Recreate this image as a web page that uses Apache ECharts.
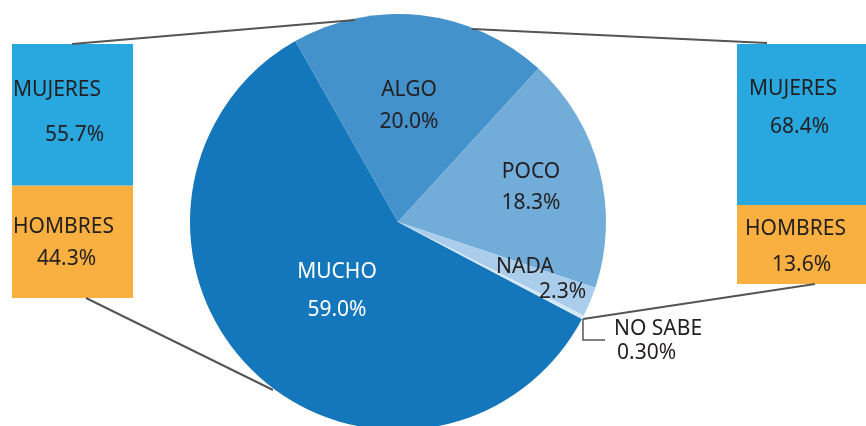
<!DOCTYPE html>
<html>
<head>
<meta charset="utf-8">
<script src="https://cdn.jsdelivr.net/npm/echarts@6/dist/echarts.min.js"></script>
<style>
  html, body { margin: 0; padding: 0; background: #fff; }
  #chart { width: 866px; height: 426px; }
</style>
</head>
<body>
<div id="chart"></div>
<script>
// pie data
var answers = ["MUCHO", "ALGO", "POCO", "NADA", "NO SABE"];
var answerPct = [59.0, 20.0, 18.3, 2.3, 0.3];
var answerDecimals = [1, 1, 1, 1, 2];

// side bars (breakdown by sex)
var sexes = ["HOMBRES", "MUJERES"];
var leftPct = [44.3, 55.7];
var rightPct = [13.6, 68.4];
// right bar segment heights as drawn (share of bar)
var rightBarShare = [32.9, 67.1];

var textColor = "#231f20";
var font = "Noto Sans";
var fontSize = 21;
var pieColors = ["#1476bb", "#4392cb", "#72acd9", "#a9cdea", "#d5e7f5"];
var sexColors = ["#f9b040", "#29a8e0"];

// label layout for pie (block centre / left edge, line height, indent of 2nd line)
var pieLabelLayout = [
  { x: 337, y: 291, align: "center", lh: 38, indent: 0, color: "#fff" },
  { x: 409, y: 106, align: "center", lh: 32, indent: 0, color: textColor },
  { x: 531, y: 187.5, align: "center", lh: 31, indent: 0, color: textColor },
  { x: 496, y: 279.5, align: "left", lh: 25, indent: 43, color: textColor },
  { x: 614, y: 341, align: "left", lh: 24, indent: 3, color: textColor }
];

// bar label layout: [dx, dy] from segment top-left, line height, indent
var leftLabelLayout = [
  { pos: [1, 26], lh: 32, indent: 24 },
  { pos: [1, 23.5], lh: 45, indent: 32 }
];
var rightLabelLayout = [
  { pos: [8, 6], lh: 36, indent: 27 },
  { pos: [12, 26], lh: 38, indent: 21 }
];

function richFor(lh, indent, color) {
  return {
    n: { fontFamily: font, fontSize: fontSize, lineHeight: lh, color: color },
    p: { fontFamily: font, fontSize: fontSize, lineHeight: lh, color: color, padding: [0, 0, 0, indent] }
  };
}

var pieData = answers.map(function (name, i) {
  var l = pieLabelLayout[i];
  return {
    name: name,
    value: answerPct[i],
    itemStyle: { color: pieColors[i] },
    label: {
      formatter: "{n|" + name + "}\n{p|" + answerPct[i].toFixed(answerDecimals[i]) + "%}",
      align: l.align,
      rich: richFor(l.lh, l.indent, l.color)
    }
  };
});

function barSeries(gridIdx, heights, pcts, layout) {
  return sexes.map(function (s, i) {
    return {
      type: "bar",
      name: s,
      stack: "g" + gridIdx,
      xAxisIndex: gridIdx,
      yAxisIndex: gridIdx,
      barWidth: "100%",
      silent: true,
      itemStyle: { color: sexColors[i] },
      label: {
        show: true,
        position: layout[i].pos,
        formatter: "{n|" + s + "}\n{p|" + pcts[i].toFixed(1) + "%}",
        rich: richFor(layout[i].lh, layout[i].indent, textColor)
      },
      data: [heights[i]]
    };
  });
}

var chart = echarts.init(document.getElementById("chart"));
var option = {
  backgroundColor: "#fff",
  animation: false,
  grid: [
    { left: 12, top: 44, width: 121, height: 254 },
    { left: 737, top: 44, width: 129, height: 240 }
  ],
  xAxis: [
    { type: "category", data: ["x"], gridIndex: 0, show: false },
    { type: "category", data: ["x"], gridIndex: 1, show: false }
  ],
  yAxis: [
    { type: "value", gridIndex: 0, min: 0, max: 100, show: false },
    { type: "value", gridIndex: 1, min: 0, max: 100, show: false }
  ],
  series: [
    {
      type: "pie",
      center: [398, 222],
      radius: 208,
      startAngle: 332.2,
      clockwise: true,
      silent: true,
      label: { show: true, position: "inside" },
      labelLine: { show: false },
      labelLayout: function (p) {
        var l = pieLabelLayout[p.dataIndex];
        return { x: l.x, y: l.y, align: l.align, verticalAlign: "middle" };
      },
      data: pieData
    }
  ].concat(barSeries(0, leftPct, leftPct, leftLabelLayout))
   .concat(barSeries(1, rightBarShare, rightPct, rightLabelLayout)),
  graphic: [
    { type: "polyline", z: 100, shape: { points: [[72, 44], [355, 20]] }, style: { stroke: "#555", lineWidth: 2, fill: null } },
    { type: "polyline", z: 100, shape: { points: [[472, 29], [767, 43]] }, style: { stroke: "#555", lineWidth: 2, fill: null } },
    { type: "polyline", z: 100, shape: { points: [[86, 298], [273, 390]] }, style: { stroke: "#555", lineWidth: 2, fill: null } },
    { type: "polyline", z: 100, shape: { points: [[815, 284], [583, 319]] }, style: { stroke: "#555", lineWidth: 2, fill: null } },
    { type: "polyline", z: 100, shape: { points: [[583, 319], [583, 340], [605, 340]] }, style: { stroke: "#555", lineWidth: 1.5, fill: null } }
  ]
};
chart.setOption(option);
</script>
</body>
</html>
